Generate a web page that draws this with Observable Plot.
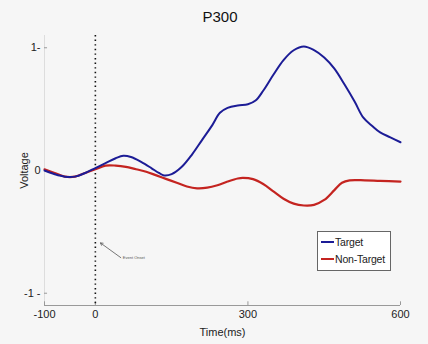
<!DOCTYPE html>
<html>
<head>
<meta charset="utf-8">
<script src="https://cdn.jsdelivr.net/npm/d3@7"></script>
<script src="https://cdn.jsdelivr.net/npm/@observablehq/plot@0.6"></script>
<style>
  html, body { margin: 0; padding: 0; background: #f6f6f6; }
  body { width: 428px; height: 344px; position: relative; overflow: hidden; font-family: "Liberation Sans", Arial, sans-serif; }
  #title { height: 30px; line-height: 34px; text-align: center; font-size: 15px; color: #111; padding-left: 12px; box-sizing: border-box; }
  #legend { position: absolute; left: 317px; top: 231px; width: 72px; height: 38px; background: #fff; border: 1px solid #666; font-size: 10.5px; letter-spacing: -0.2px; color: #222; }
  .item { position: absolute; left: 3px; display: flex; align-items: center; white-space: nowrap; line-height: 14px; }
  .sw { width: 13px; height: 2px; margin-right: 1px; }
</style>
</head>
<body>
<div id="title">P300</div>
<div id="chart"></div>
<div id="legend"></div>
<script>
const seriesNames = ["Target", "Non-Target"];
const seriesColors = ["#1c1c96", "#c42420"];

const targetTime = [-100,-80,-60,-40,-20,0,20,40,55,70,90,110,125,135,150,170,190,210,230,245,260,280,300,315,330,350,370,390,410,430,450,470,490,510,527,545,560,580,600];
const targetVolt = [0.0,-0.03,-0.05,-0.05,-0.02,0.02,0.06,0.10,0.12,0.11,0.07,0.02,-0.02,-0.04,-0.03,0.03,0.13,0.25,0.37,0.47,0.51,0.53,0.54,0.57,0.65,0.78,0.90,0.98,1.01,0.98,0.92,0.83,0.70,0.56,0.43,0.36,0.31,0.27,0.23];

const nonTargetTime = [-100,-80,-60,-40,-20,0,20,40,60,80,100,120,140,160,180,200,220,240,260,280,290,310,330,350,370,390,410,430,450,470,485,500,530,560,600];
const nonTargetVolt = [0.01,-0.02,-0.05,-0.05,-0.02,0.01,0.04,0.04,0.03,0.01,-0.01,-0.04,-0.07,-0.10,-0.13,-0.145,-0.14,-0.12,-0.09,-0.065,-0.06,-0.07,-0.11,-0.17,-0.23,-0.27,-0.285,-0.28,-0.24,-0.16,-0.10,-0.08,-0.08,-0.085,-0.09];

const xTicks = [-100, 0, 300, 600];
const yTicks = [-1, 0, 1];
const xDomain = [-100, 600];
const yDomain = [-1.1, 1.1];

const annotation = {label: "Event Onset", x1: 50, y1: -0.71, x2: 10, y2: -0.59};

const target = targetTime.map((t, i) => ({time: t, volt: targetVolt[i]}));
const nonTarget = nonTargetTime.map((t, i) => ({time: t, volt: nonTargetVolt[i]}));

const plot = Plot.plot({
  width: 428,
  height: 314,
  marginLeft: 44,
  marginRight: 28,
  marginTop: 5,
  marginBottom: 39,
  style: {background: "transparent", fontFamily: "Liberation Sans, Arial, sans-serif", fontSize: "11px", color: "#222"},
  x: {domain: xDomain},
  y: {domain: yDomain},
  marks: [
    Plot.ruleX([xDomain[0]], {stroke: "#ddd"}),
    Plot.ruleY([yDomain[0]], {stroke: "#999"}),
    Plot.ruleX(xTicks, {y1: yDomain[0], y2: yDomain[0] + 0.03, stroke: "#999"}),
    Plot.ruleY(yTicks.filter(d => d !== 0), {x1: xDomain[0], x2: xDomain[0] + 6, stroke: "#999"}),
    Plot.axisX({ticks: xTicks, tickSize: 0, tickPadding: 5, tickFormat: d => String(d), label: "Time(ms)", labelAnchor: "center", labelArrow: "none", labelOffset: 30}),
    Plot.axisY({ticks: yTicks, tickSize: 0, tickPadding: 4, tickFormat: d => d === 0 ? "0" : (d > 0 ? d + "-" : d + " -"), label: "Voltage", labelAnchor: "center", labelArrow: "none", labelOffset: 24}),
    Plot.ruleX([0], {stroke: "#111", strokeWidth: 1.6, strokeDasharray: "1.4,3.2"}),
    Plot.line(nonTarget, {x: "time", y: "volt", stroke: seriesColors[1], strokeWidth: 2.2, curve: "catmull-rom"}),
    Plot.line(target, {x: "time", y: "volt", stroke: seriesColors[0], strokeWidth: 2, curve: "catmull-rom"}),
    Plot.arrow([annotation], {x1: "x1", y1: "y1", x2: "x2", y2: "y2", stroke: "#555", strokeWidth: 0.8, headLength: 5}),
    Plot.text([annotation], {x: "x1", y: "y1", text: "label", textAnchor: "start", dx: 2, fontSize: 4, fill: "#555"})
  ]
});
document.getElementById("chart").appendChild(plot);

const legend = document.getElementById("legend");
seriesNames.forEach((name, i) => {
  const item = document.createElement("div");
  item.className = "item";
  item.style.top = (3 + i * 17) + "px";
  const sw = document.createElement("div");
  sw.className = "sw";
  sw.style.background = seriesColors[i];
  item.appendChild(sw);
  const label = document.createElement("span");
  label.textContent = name;
  item.appendChild(label);
  legend.appendChild(item);
});
</script>
</body>
</html>
